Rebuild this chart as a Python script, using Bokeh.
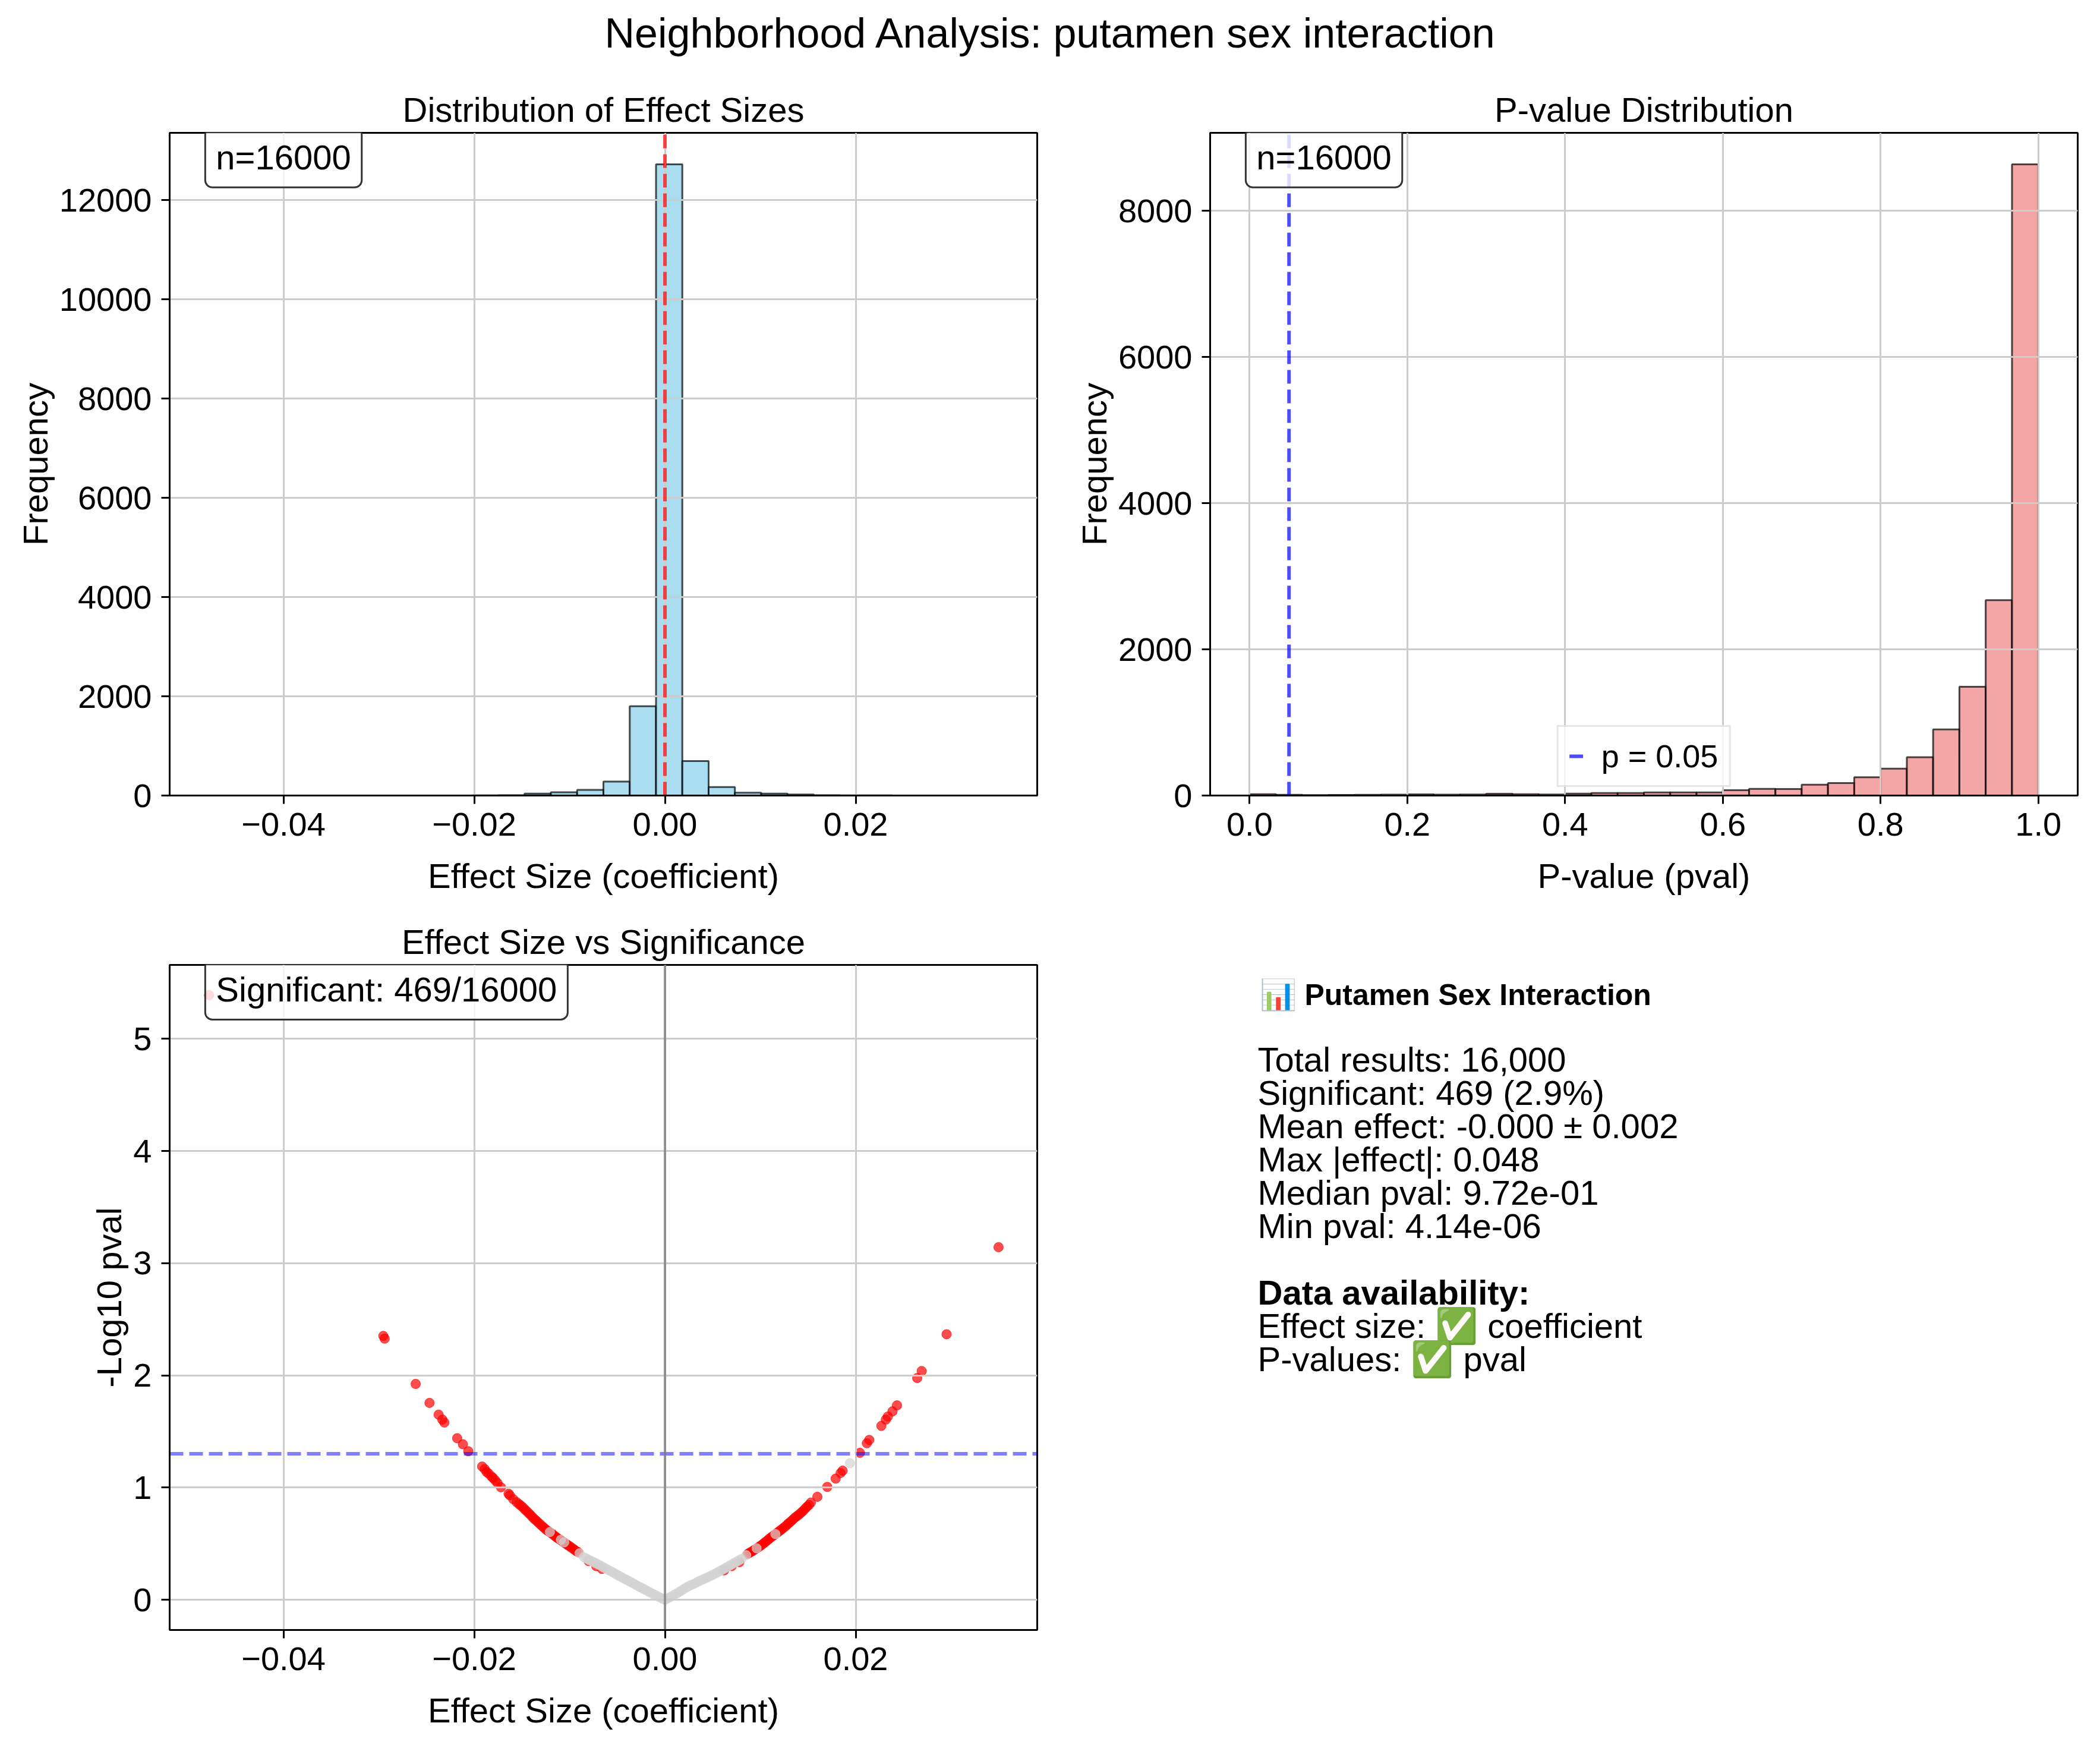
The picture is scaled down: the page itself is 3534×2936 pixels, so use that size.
import numpy as np
from bokeh.plotting import figure
from bokeh.layouts import column, row
from bokeh.models import Range1d, FixedTicker, Label
from bokeh.core.properties import value
from bokeh.embed import file_html
from bokeh.resources import INLINE

FONT = "Liberation Sans"

# --- data ------------------------------------------------------------------
N_TOTAL = 16000
N_SIG = 469
P_THRESH = 0.05

EFFECT_MIN = -0.0478
EFFECT_MAX = 0.0349
EFFECT_COUNTS = [1, 0, 0, 0, 0, 0, 0, 1, 0, 1, 2, 6, 40, 65, 115, 280, 1800,
                 12720, 695, 170, 58, 38, 22, 6, 3, 2, 1, 0, 0, 1]

PVAL_MIN = 4.14e-06
PVAL_MAX = 0.9999
PVAL_COUNTS = [18, 10, 6, 8, 10, 12, 16, 12, 14, 24, 19, 14, 27, 35, 35, 43,
               43, 43, 73, 92, 89, 149, 170, 251, 367, 524, 905, 1488, 2674, 8636]

# significant points (red)
sig_effect = [-0.0478, -0.02953, -0.02939, -0.02614, -0.02469, -0.02373, -0.02334,
              -0.02313, -0.02179, -0.02119, -0.02062, -0.01917, -0.01890, -0.01870,
              -0.01850, -0.01820, -0.01803, -0.01780, -0.01756, -0.01720, -0.01640,
              -0.01627, -0.01591, -0.01555, -0.01530,
              -0.0151, -0.0149, -0.0147, -0.0145, -0.0143, -0.0141, -0.0139,
              -0.0137, -0.0135, -0.0133, -0.0131, -0.0129, -0.0127, -0.0125,
              -0.0123, -0.0121, -0.0119, -0.0117, -0.0115, -0.0113, -0.0111,
              -0.0109, -0.0107, -0.0105, -0.0103, -0.0101, -0.0099, -0.0097,
              -0.0095, -0.0093, -0.0091, -0.0080, -0.0072, -0.0066,
              0.0062, 0.0070, 0.0078,
              0.0087, 0.0089, 0.0091, 0.0093, 0.0095, 0.0097, 0.0099, 0.0101,
              0.0103, 0.0105, 0.0107, 0.0109, 0.0111, 0.0113, 0.0115, 0.0117,
              0.0119, 0.0121, 0.0123, 0.0125, 0.0127, 0.0129, 0.0131, 0.0133,
              0.0135, 0.0137, 0.0139, 0.0141, 0.0143, 0.0145, 0.0147, 0.0149,
              0.0151, 0.0153,
              0.01598, 0.01702, 0.01790, 0.01842, 0.01863, 0.02044, 0.02117,
              0.02142, 0.02269, 0.02316, 0.02337, 0.02386, 0.02433, 0.02645,
              0.02692, 0.02953, 0.03498]
sig_logp = [5.39, 2.352, 2.328, 1.924, 1.755, 1.650, 1.606,
            1.580, 1.440, 1.386, 1.324, 1.188, 1.165, 1.140,
            1.126, 1.100, 1.086, 1.065, 1.041, 1.003, 0.945,
            0.932, 0.897, 0.870, 0.852,
            0.839, 0.824, 0.806, 0.790, 0.773, 0.756, 0.738,
            0.721, 0.706, 0.690, 0.674, 0.658, 0.643, 0.628,
            0.615, 0.604, 0.592, 0.579, 0.565, 0.552, 0.541,
            0.530, 0.518, 0.505, 0.494, 0.483, 0.471, 0.459,
            0.446, 0.434, 0.424, 0.345, 0.300, 0.275,
            0.262, 0.300, 0.335,
            0.410, 0.420, 0.430, 0.441, 0.452, 0.463, 0.474, 0.486,
            0.499, 0.513, 0.526, 0.541, 0.555, 0.567, 0.580, 0.593,
            0.606, 0.619, 0.632, 0.646, 0.660, 0.677, 0.691, 0.706,
            0.722, 0.737, 0.750, 0.763, 0.778, 0.794, 0.812, 0.830,
            0.845, 0.866,
            0.918, 1.006, 1.080, 1.130, 1.151, 1.310, 1.395,
            1.425, 1.550, 1.606, 1.633, 1.680, 1.733, 1.977,
            2.039, 2.367, 3.143]

# non-significant points (grey): isolated ones, then the dense band near zero
ns_effect = [-0.01207, -0.01091, -0.01057, -0.00896,
             -0.00850, -0.00825, -0.00800, -0.00775, -0.00750, -0.00725,
             -0.00700, -0.00675, -0.00650, -0.00625, -0.00600, -0.00575,
             -0.00550, -0.00525, -0.00500, -0.00475, -0.00450, -0.00425,
             -0.00400, -0.00375, -0.00350, -0.00325, -0.00300, -0.00275,
             -0.00250, -0.00225, -0.00200, -0.00175, -0.00150, -0.00125,
             -0.00100, -0.00075, -0.00050, -0.00025, 0.0,
             0.00025, 0.00050, 0.00075, 0.00100, 0.00125, 0.00150, 0.00175,
             0.00200, 0.00225, 0.00250, 0.00275, 0.00300, 0.00325, 0.00350,
             0.00375, 0.00400, 0.00425, 0.00450, 0.00475, 0.00500, 0.00525,
             0.00550, 0.00575, 0.00600, 0.00625, 0.00650, 0.00675, 0.00700,
             0.00725, 0.00750, 0.00775, 0.00800,
             0.00852, 0.00961, 0.01158, 0.01940]
ns_logp = [0.604, 0.535, 0.512, 0.415,
           0.380, 0.368, 0.357, 0.347, 0.337, 0.326,
           0.315, 0.303, 0.292, 0.280, 0.268, 0.257,
           0.246, 0.234, 0.222, 0.210, 0.199, 0.188,
           0.177, 0.165, 0.154, 0.142, 0.130, 0.119,
           0.108, 0.097, 0.086, 0.074, 0.063, 0.052,
           0.041, 0.030, 0.020, 0.010, 0.0,
           0.011, 0.022, 0.033, 0.045, 0.057, 0.070, 0.083,
           0.097, 0.110, 0.122, 0.131, 0.140, 0.151, 0.162,
           0.172, 0.182, 0.191, 0.201, 0.211, 0.221, 0.232,
           0.244, 0.255, 0.267, 0.279, 0.291, 0.303, 0.315,
           0.327, 0.339, 0.351, 0.363,
           0.397, 0.459, 0.586, 1.218]

EFFECT_TICKS = [-0.04, -0.02, 0.0, 0.02]
EFFECT_TICK_LABELS = ["\u22120.04", "\u22120.02", "0.00", "0.02"]
FREQ1_TICKS = [0, 2000, 4000, 6000, 8000, 10000, 12000]
FREQ1_TICK_LABELS = ["0", "2000", "4000", "6000", "8000", "10000", "12000"]
PVAL_TICKS = [0.0, 0.2, 0.4, 0.6, 0.8, 1.0]
PVAL_TICK_LABELS = ["0.0", "0.2", "0.4", "0.6", "0.8", "1.0"]
FREQ2_TICKS = [0, 2000, 4000, 6000, 8000]
FREQ2_TICK_LABELS = ["0", "2000", "4000", "6000", "8000"]
LOGP_TICKS = [0, 1, 2, 3, 4, 5]
LOGP_TICK_LABELS = ["0", "1", "2", "3", "4", "5"]

SUPTITLE = "Neighborhood Analysis: putamen sex interaction"
SUMMARY_TITLE = "\U0001F4CA Putamen Sex Interaction"
SUMMARY_LINES = ["Total results: 16,000",
                 "Significant: 469 (2.9%)",
                 "Mean effect: -0.000 \u00b1 0.002",
                 "Max |effect|: 0.048",
                 "Median pval: 9.72e-01",
                 "Min pval: 4.14e-06",
                 "",
                 "Data availability:",
                 "Effect size: \u2705 coefficient",
                 "P-values: \u2705 pval"]
SUMMARY_BOLD = [False, False, False, False, False, False, False, True, False, False]


def padded(lo, hi, frac=0.05):
    span = hi - lo
    return lo - frac * span, hi + frac * span


def make_fig(width, height, borders, x_range, y_range, title):
    left, right, top, bottom = borders
    p = figure(width=width, height=height, x_range=x_range, y_range=y_range,
               output_backend="svg", toolbar_location=None, title=title,
               min_border_left=left, min_border_right=right,
               min_border_top=top, min_border_bottom=bottom)
    p.title.text_font = FONT
    p.title.text_font_size = "58px"
    p.title.text_font_style = "normal"
    p.title.text_color = "black"
    p.title.align = "center"
    p.title.standoff = 14
    p.outline_line_color = "black"
    p.outline_line_width = 3
    p.background_fill_color = "white"
    p.border_fill_color = "white"
    for ax in (p.xaxis[0], p.yaxis[0]):
        ax.axis_line_width = 3
        ax.major_tick_line_width = 3
        ax.major_tick_out = 14
        ax.major_tick_in = 0
        ax.minor_tick_line_color = None
        ax.major_label_text_font = FONT
        ax.major_label_text_font_size = "56px"
        ax.major_label_text_color = "black"
        ax.axis_label_text_font = FONT
        ax.axis_label_text_font_size = "58px"
        ax.axis_label_text_font_style = "normal"
        ax.axis_label_text_color = "black"
    p.xaxis.major_label_standoff = 15
    p.yaxis.major_label_standoff = 16
    p.xaxis.axis_label_standoff = 32
    p.yaxis.axis_label_standoff = 5
    # grid sits above bars and points, below the reference lines
    p.grid.grid_line_color = "#cccccc"
    p.grid.grid_line_width = 3
    return p


def set_ticks(axis, ticks, labels):
    axis.ticker = FixedTicker(ticks=ticks)
    axis.major_label_overrides = {t: l for t, l in zip(ticks, labels)}


def add_box(p, text, fx, fy):
    xr, yr = p.x_range, p.y_range
    lab = Label(x=xr.start + fx * (xr.end - xr.start),
                y=yr.start + fy * (yr.end - yr.start),
                text=text, text_font=FONT, text_font_size="58px",
                text_color="black", text_align="left", text_baseline="middle",
                background_fill_color="white", background_fill_alpha=0.8,
                border_line_color="#333333", border_line_width=3,
                padding=18, border_radius=12)
    p.add_layout(lab)


# --- suptitle -------------------------------------------------------------
W = 3510
head = figure(width=W, height=142, x_range=Range1d(0, W), y_range=Range1d(142, 0),
              x_axis_location=None, y_axis_location=None, min_border=0,
              output_backend="svg", toolbar_location=None)
head.grid.visible = False
head.outline_line_color = None
head.text(x=[W / 2 + 13], y=[55], text=[SUPTITLE], text_font=value(FONT),
          text_font_size="70px", text_align="center", text_baseline="middle",
          text_color="black")

# --- effect size histogram ---------------------------------------------------
edges = np.linspace(EFFECT_MIN, EFFECT_MAX, len(EFFECT_COUNTS) + 1)
p1 = make_fig(1775, 1380, (285, 30, 77, 184),
              Range1d(*padded(EFFECT_MIN, EFFECT_MAX)),
              Range1d(0, max(EFFECT_COUNTS) * 1.05),
              "Distribution of Effect Sizes")
bars1 = p1.quad(left=edges[:-1], right=edges[1:], bottom=0, top=EFFECT_COUNTS,
                fill_color="#87CEEB", fill_alpha=0.7, line_color="black",
                line_alpha=0.7, line_width=3)
bars1.level = "image"
p1.line([0, 0], [p1.y_range.start, p1.y_range.end], line_color="red",
        line_alpha=0.7, line_width=6, line_dash="23 10")
set_ticks(p1.xaxis[0], EFFECT_TICKS, EFFECT_TICK_LABELS)
set_ticks(p1.yaxis[0], FREQ1_TICKS, FREQ1_TICK_LABELS)
p1.xaxis.axis_label = "Effect Size (coefficient)"
p1.yaxis.axis_label = "Frequency"
add_box(p1, f"n={N_TOTAL}", 0.041, 0.963)

# --- p-value histogram -------------------------------------------------------
pedges = np.linspace(PVAL_MIN, PVAL_MAX, len(PVAL_COUNTS) + 1)
p2 = make_fig(1735, 1380, (261, 14, 77, 184),
              Range1d(*padded(PVAL_MIN, PVAL_MAX)),
              Range1d(0, max(PVAL_COUNTS) * 1.05),
              "P-value Distribution")
bars2 = p2.quad(left=pedges[:-1], right=pedges[1:], bottom=0, top=PVAL_COUNTS,
                fill_color="#F08080", fill_alpha=0.7, line_color="black",
                line_alpha=0.7, line_width=3)
bars2.level = "image"
p2.line([P_THRESH, P_THRESH], [p2.y_range.start, p2.y_range.end],
        line_color="blue", line_alpha=0.7, line_width=6, line_dash="23 10",
        legend_label=f"p = {P_THRESH}")
set_ticks(p2.xaxis[0], PVAL_TICKS, PVAL_TICK_LABELS)
set_ticks(p2.yaxis[0], FREQ2_TICKS, FREQ2_TICK_LABELS)
p2.xaxis.axis_label = "P-value (pval)"
p2.yaxis.axis_label = "Frequency"
p2.legend.location = "bottom_center"
p2.legend.margin = 14
p2.legend.padding = 18
p2.legend.label_standoff = 30
p2.legend.glyph_width = 24
p2.legend.label_text_font = FONT
p2.legend.label_text_font_size = "54px"
p2.legend.label_text_color = "black"
p2.legend.border_line_color = "#cccccc"
p2.legend.border_line_width = 3
p2.legend.background_fill_alpha = 0.8
add_box(p2, f"n={N_TOTAL}", 0.041, 0.963)

# --- volcano -------------------------------------------------------------------
all_logp = sig_logp + ns_logp
p3 = make_fig(1775, 1390, (285, 30, 101, 170),
              Range1d(*padded(EFFECT_MIN, EFFECT_MAX)),
              Range1d(*padded(min(all_logp), max(all_logp))),
              "Effect Size vs Significance")
red = p3.scatter(sig_effect, sig_logp, size=16, color="red", alpha=0.7)
grey = p3.scatter(ns_effect, ns_logp, size=16, color="lightgray", alpha=0.7)
red.level = "image"
grey.level = "image"
thr = -np.log10(P_THRESH)
p3.line([p3.x_range.start, p3.x_range.end], [thr, thr], line_color="blue",
        line_alpha=0.5, line_width=6, line_dash="23 10")
p3.line([0, 0], [p3.y_range.start, p3.y_range.end], line_color="gray",
        line_alpha=0.8, line_width=4)
set_ticks(p3.xaxis[0], EFFECT_TICKS, EFFECT_TICK_LABELS)
set_ticks(p3.yaxis[0], LOGP_TICKS, LOGP_TICK_LABELS)
p3.xaxis.axis_label = "Effect Size (coefficient)"
p3.yaxis.axis_label = "-Log10 pval"
add_box(p3, f"Significant: {N_SIG}/{N_TOTAL}", 0.041, 0.963)

# --- summary text (frame aligned with the volcano row) ---------------------------
FW, FH = 1460, 1119
p4 = figure(width=1735, height=1390, x_range=Range1d(0, FW), y_range=Range1d(FH, 0),
            x_axis_location=None, y_axis_location=None,
            min_border_left=261, min_border_right=14,
            min_border_top=101, min_border_bottom=170,
            output_backend="svg", toolbar_location=None)
p4.grid.visible = False
p4.outline_line_color = None
p4.text(x=[83], y=[50], text=[SUMMARY_TITLE], text_font=value(FONT),
        text_font_size="50px", text_font_style="bold", text_baseline="middle",
        text_color="black")
line_y = [159 + 56 * i for i in range(len(SUMMARY_LINES))]
reg = [i for i, b in enumerate(SUMMARY_BOLD) if not b]
bold = [i for i, b in enumerate(SUMMARY_BOLD) if b]
p4.text(x=[80] * len(reg), y=[line_y[i] for i in reg],
        text=[SUMMARY_LINES[i] for i in reg], text_font=value(FONT),
        text_font_size="58px", text_baseline="middle", text_color="black")
p4.text(x=[80] * len(bold), y=[line_y[i] for i in bold],
        text=[SUMMARY_LINES[i] for i in bold], text_font=value(FONT),
        text_font_size="58px", text_font_style="bold", text_baseline="middle",
        text_color="black")

layout = column(head, row(p1, p2), row(p3, p4))
open("out.html", "w").write(file_html(layout, INLINE))
